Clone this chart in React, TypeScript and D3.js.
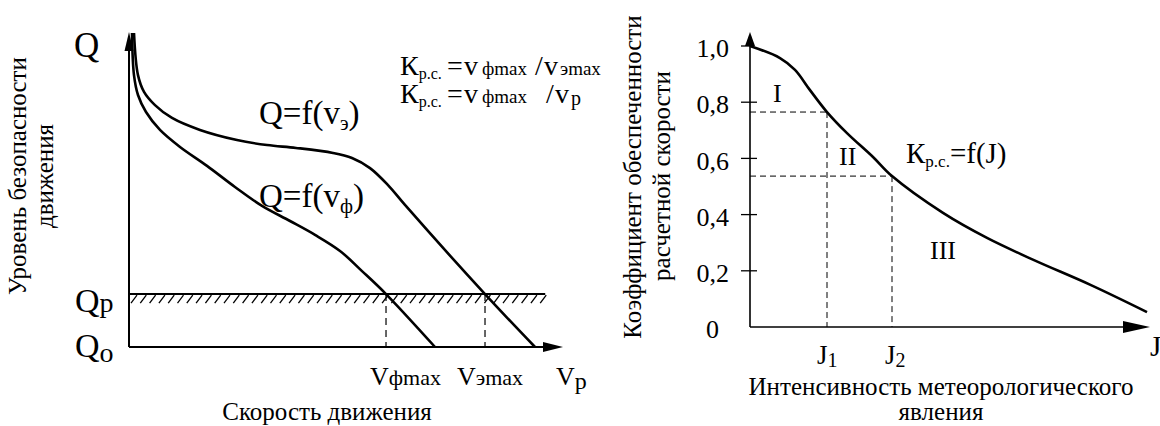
import React from 'react';
import * as d3 from 'd3';

const W = 1160;
const H = 426;

// ---------- Left chart: safety level vs speed (relative units 0..100) ----------
const upperSpeed = [1.15, 2.07, 3.46, 5.99, 9.91, 16.36, 24.88, 31.8, 38.48, 47.0, 51.38, 55.53, 59.68, 63.59, 82.03, 93.55];
const upperLevel = [99.7, 86.3, 81.0, 76.8, 72.7, 68.9, 65.7, 64.1, 63.2, 61.6, 60.0, 56.8, 51.4, 45.1, 16.8, 0];
const lowerSpeed = [0.69, 1.15, 2.07, 3.92, 7.14, 11.75, 17.97, 24.42, 30.65, 37.1, 42.86, 48.62, 53.69, 59.22, 70.51];
const lowerLevel = [99.7, 86.3, 80.0, 74.6, 68.9, 63.5, 57.5, 50.8, 44.8, 40.0, 35.6, 30.5, 24.1, 16.8, 0];
const levelQp = 16.8;
const hatchBand = 2.9;
const hatchEnd = 95.9;
const vfMax = 59.22;
const veMax = 82.03;

// ---------- Right chart: coefficient vs intensity ----------
const intensity = [0, 7.5, 11.25, 15, 19.25, 24.25, 30.75, 35.5, 48.25, 59.25, 71, 85.25, 99.25];
const coef = [1.0, 0.957, 0.915, 0.843, 0.765, 0.69, 0.605, 0.537, 0.406, 0.317, 0.238, 0.149, 0.053];
const kTicks = [0, 0.2, 0.4, 0.6, 0.8, 1.0];
const kTickLabels = ['0', '0,2', '0,4', '0,6', '0,8', '1,0'];
const J1 = 19.25;
const J2 = 35.5;
const K1 = 0.765;
const K2 = 0.537;

const FONT = "'Liberation Serif', 'Times New Roman', Times, serif";

export default function App() {
  const xL = d3.scaleLinear().domain([0, 100]).range([129, 563]);
  const yL = d3.scaleLinear().domain([0, 100]).range([347, 32]);
  const xR = d3.scaleLinear().domain([0, 100]).range([750, 1150]);
  const yR = d3.scaleLinear().domain([0, 1]).range([327, 46]);

  const lineL = d3
    .line<[number, number]>()
    .x((d) => xL(d[0]))
    .y((d) => yL(d[1]))
    .curve(d3.curveCatmullRom.alpha(0.5));
  const lineR = d3
    .line<[number, number]>()
    .x((d) => xR(d[0]))
    .y((d) => yR(d[1]))
    .curve(d3.curveCatmullRom.alpha(0.5));

  const upperPts = upperSpeed.map((v, i) => [v, upperLevel[i]] as [number, number]);
  const lowerPts = lowerSpeed.map((v, i) => [v, lowerLevel[i]] as [number, number]);
  const kPts = intensity.map((v, i) => [v, coef[i]] as [number, number]);

  const x0 = xL(0);
  const y0 = yL(0);
  const yQp = yL(levelQp);
  const yQpB = yL(levelQp - hatchBand);
  const xHatchEnd = xL(hatchEnd);
  const hatchStep = 9.3;
  const hatches: number[] = d3.range(x0 + 2, xHatchEnd - 4, hatchStep);

  const rx0 = xR(0);
  const ry0 = yR(0);

  return (
    <svg
      width={W}
      height={H}
      viewBox={`0 0 ${W} ${H}`}
      style={{ position: 'absolute', left: 0, top: 0, background: '#fff', fontFamily: FONT }}
    >
      <rect x={0} y={0} width={W} height={H} fill="#fff" />

      {/* ================= LEFT CHART ================= */}
      <line x1={x0} x2={xHatchEnd} y1={yQp} y2={yQp} stroke="#000" strokeWidth={2} />
      {hatches.map((hx, i) => (
        <line key={i} x1={hx} y1={yQpB} x2={hx + 6} y2={yQp + 1} stroke="#000" strokeWidth={1.3} />
      ))}
      <line x1={xL(vfMax)} x2={xL(vfMax)} y1={yQp} y2={y0} stroke="#000" strokeWidth={1.2} strokeDasharray="7,5" />
      <line x1={xL(veMax)} x2={xL(veMax)} y1={yQp} y2={y0} stroke="#000" strokeWidth={1.2} strokeDasharray="7,5" />
      <line x1={x0} x2={x0} y1={y0} y2={yL(100) + 14} stroke="#000" strokeWidth={2} />
      <polygon points={`${x0},${yL(100)} ${x0 - 4.5},${yL(100) + 19} ${x0 + 4.5},${yL(100) + 19}`} fill="#000" />
      <line x1={x0} x2={xL(100) - 14} y1={y0} y2={y0} stroke="#000" strokeWidth={2} />
      <polygon points={`${xL(100)},${y0} ${xL(100) - 20},${y0 - 5} ${xL(100) - 20},${y0 + 5}`} fill="#000" />
      <path d={lineL(upperPts) || ''} fill="none" stroke="#000" strokeWidth={2.6} />
      <path d={lineL(lowerPts) || ''} fill="none" stroke="#000" strokeWidth={2.6} />

      <text x={74} y={57} fontSize={35}>Q</text>
      <text x={75} y={312} fontSize={34}>
        Q<tspan fontSize={28}>p</tspan>
      </text>
      <text x={75} y={357} fontSize={34}>
        Q<tspan fontSize={28} dy={5}>o</tspan>
      </text>
      <text x={xL(vfMax) - 16} y={385} fontSize={26}>
        V<tspan fontSize={22}>фmax</tspan>
      </text>
      <text x={xL(veMax) - 28} y={385} fontSize={26}>
        V<tspan fontSize={22}>эmax</tspan>
      </text>
      <text x={556} y={385} fontSize={26}>
        V<tspan fontSize={24} dy={4}>p</tspan>
      </text>

      <text x={259} y={124} fontSize={33}>
        Q=f(v<tspan fontSize={20} dy={6}>э</tspan>
        <tspan dy={-6}>)</tspan>
      </text>
      <text x={259} y={207} fontSize={33}>
        Q=f(v<tspan fontSize={20} dy={6}>ф</tspan>
        <tspan dy={-6}>)</tspan>
      </text>

      <text x={400} y={75} fontSize={28}>
        К<tspan fontSize={16} dy={4}>р.с.</tspan>
        <tspan x={447} dy={-4} fontSize={28}>=</tspan>
        <tspan x={464} fontSize={28}>v</tspan>
        <tspan x={482} fontSize={19}>фmax</tspan>
        <tspan x={535} fontSize={28}>/</tspan>
        <tspan x={544} fontSize={28}>v</tspan>
        <tspan x={560} fontSize={19}>эmax</tspan>
      </text>
      <text x={400} y={103} fontSize={28}>
        К<tspan fontSize={16} dy={4}>р.с.</tspan>
        <tspan x={447} dy={-4} fontSize={28}>=</tspan>
        <tspan x={464} fontSize={28}>v</tspan>
        <tspan x={482} fontSize={19}>фmax</tspan>
        <tspan x={546} fontSize={28}>/</tspan>
        <tspan x={555} fontSize={28}>v</tspan>
        <tspan x={571} fontSize={20} dy={2}>p</tspan>
      </text>

      <text x={327} y={420} fontSize={25} textAnchor="middle">Скорость движения</text>
      <text transform="translate(26,176) rotate(-90)" fontSize={25} textAnchor="middle">
        Уровень безопасности
      </text>
      <text transform="translate(53,176) rotate(-90)" fontSize={25} textAnchor="middle">
        движения
      </text>

      {/* ================= RIGHT CHART ================= */}
      <line x1={rx0} x2={xR(J1)} y1={yR(K1)} y2={yR(K1)} stroke="#000" strokeWidth={1} strokeDasharray="6,4" />
      <line x1={xR(J1)} x2={xR(J1)} y1={yR(K1)} y2={ry0} stroke="#000" strokeWidth={1} strokeDasharray="6,4" />
      <line x1={rx0} x2={xR(J2)} y1={yR(K2)} y2={yR(K2)} stroke="#000" strokeWidth={1} strokeDasharray="6,4" />
      <line x1={xR(J2)} x2={xR(J2)} y1={yR(K2)} y2={ry0} stroke="#000" strokeWidth={1} strokeDasharray="6,4" />
      <line x1={rx0} x2={rx0} y1={ry0} y2={42} stroke="#000" strokeWidth={1.6} />
      <polygon points={`${rx0},32 ${rx0 - 5},46 ${rx0 + 5},46`} fill="#000" />
      <line x1={rx0} x2={xR(100) - 20} y1={ry0} y2={ry0} stroke="#000" strokeWidth={1.6} />
      <polygon points={`${xR(100)},${ry0} ${xR(100) - 27},${ry0 - 6} ${xR(100) - 27},${ry0 + 6}`} fill="#000" />
      {kTicks.map((k, i) =>
        k === 0 ? null : (
          <line
            key={'t' + i}
            x1={rx0 - 9}
            x2={k === 1 ? rx0 : rx0 + 7}
            y1={yR(k)}
            y2={yR(k)}
            stroke="#000"
            strokeWidth={1.3}
          />
        )
      )}
      {kTicks.map((k, i) => (
        <text
          key={'l' + i}
          x={k === 0 ? rx0 - 31 : rx0 - 21}
          y={yR(k) + 2}
          dy="0.35em"
          fontSize={26}
          textAnchor="end"
        >
          {kTickLabels[i]}
        </text>
      ))}
      <path d={lineR(kPts) || ''} fill="none" stroke="#000" strokeWidth={2.6} />

      <text x={773} y={102} fontSize={26}>I</text>
      <text x={839} y={165} fontSize={26}>II</text>
      <text x={930} y={259} fontSize={26}>III</text>
      <text x={906} y={163} fontSize={29}>
        К<tspan fontSize={17} dy={4}>р.с.</tspan>
        <tspan dy={-4} fontSize={29}>=f(J)</tspan>
      </text>
      <text x={xR(J1) - 10} y={364} fontSize={27}>
        J<tspan fontSize={20} dy={3}>1</tspan>
      </text>
      <text x={xR(J2) - 7} y={364} fontSize={27}>
        J<tspan fontSize={20} dy={3}>2</tspan>
      </text>
      <text x={1150} y={356} fontSize={29}>J</text>

      <text x={941} y={395} fontSize={25} textAnchor="middle">Интенсивность метеорологического</text>
      <text x={941} y={420} fontSize={25} textAnchor="middle">явления</text>
      <text transform="translate(641,177) rotate(-90)" fontSize={25} textAnchor="middle">
        Коэффициент обеспеченности
      </text>
      <text transform="translate(670,176) rotate(-90)" fontSize={25} textAnchor="middle">
        расчетной скорости
      </text>
    </svg>
  );
}
